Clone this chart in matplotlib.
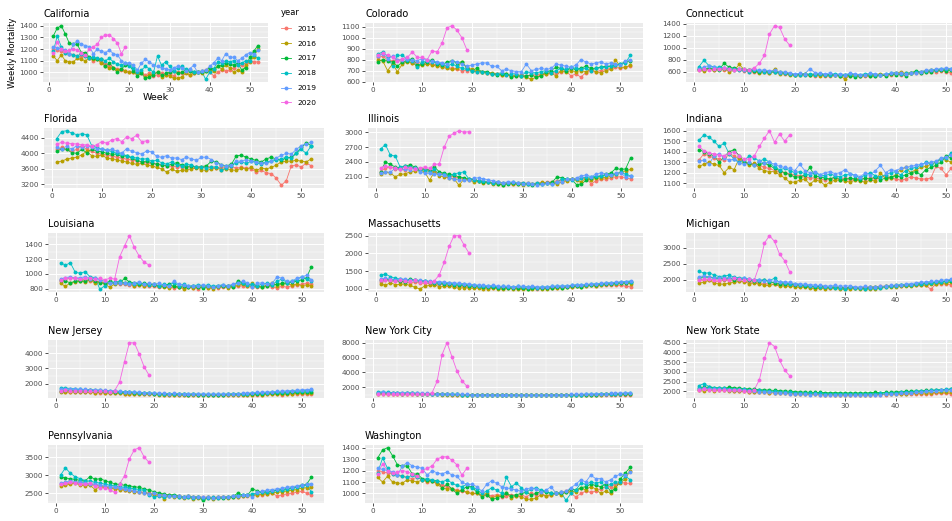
import matplotlib
matplotlib.use("Agg")
import matplotlib.pyplot as plt
from matplotlib.lines import Line2D
from matplotlib.ticker import MultipleLocator, AutoMinorLocator

years = ["2015", "2016", "2017", "2018", "2019", "2020"]
colors = ["#F8766D", "#B79F00", "#00BA38", "#00BFC4", "#619CFF", "#F564E3"]

# each state: weekly deaths for 2015..2019 (52 weeks) and 2020 (19 weeks)
california = [
    [1200, 1190, 1180, 1170, 1160, 1150, 1140, 1130, 1140, 1120, 1100, 1110, 1090, 1070, 1060, 1040, 1030, 1020, 1010, 1000, 1000, 990, 990, 980, 990, 970, 980, 990, 980, 990, 970, 1000, 990, 1000, 980, 990, 1000, 1010, 1020, 1000, 970, 1000, 1020, 1010, 1020, 1040, 1060, 1060, 1080, 1100, 1090, 1090],
    [1140, 1100, 1150, 1100, 1090, 1090, 1120, 1110, 1100, 1120, 1110, 1110, 1080, 1050, 1040, 1040, 1020, 1030, 1010, 1000, 1000, 990, 1000, 960, 980, 990, 1000, 960, 980, 970, 950, 950, 960, 990, 980, 990, 1000, 990, 1010, 1020, 1010, 1050, 1030, 1060, 1040, 1000, 1020, 1000, 1060, 1090, 1130, 1200],
    [1310, 1380, 1400, 1330, 1250, 1240, 1240, 1170, 1170, 1130, 1120, 1110, 1110, 1050, 1080, 1040, 1000, 1030, 1060, 1060, 1010, 970, 990, 950, 960, 980, 1000, 980, 990, 1000, 1010, 990, 1000, 1020, 1010, 1000, 1000, 1000, 1010, 1040, 1030, 1050, 1060, 1080, 1070, 1060, 1080, 1020, 1040, 1130, 1180, 1230],
    [1180, 1310, 1220, 1170, 1160, 1150, 1140, 1160, 1140, 1120, 1130, 1120, 1110, 1100, 1120, 1090, 1070, 1060, 1080, 1050, 1040, 1000, 1020, 1050, 1030, 1000, 1140, 1060, 1090, 1050, 1010, 1040, 1050, 1030, 1020, 1000, 1000, 1010, 940, 1000, 1030, 1090, 1080, 1100, 1090, 1100, 1060, 1080, 1100, 1100, 1150, 1120],
    [1220, 1210, 1200, 1190, 1160, 1240, 1270, 1240, 1230, 1220, 1160, 1200, 1180, 1170, 1190, 1160, 1150, 1100, 1080, 1080, 1060, 1020, 1080, 1110, 1090, 1060, 1050, 1040, 1030, 1020, 1040, 1050, 1040, 1010, 1030, 1060, 1000, 1010, 1020, 1050, 1080, 1120, 1100, 1160, 1130, 1130, 1100, 1120, 1150, 1170, 1160, 1190],
    [1170, 1260, 1200, 1180, 1190, 1200, 1190, 1170, 1150, 1200, 1220, 1240, 1300, 1320, 1320, 1290, 1250, 1160, 1220],
]
colorado = [
    [820, 830, 800, 790, 800, 780, 790, 770, 780, 760, 770, 760, 750, 740, 730, 720, 710, 700, 700, 700, 690, 690, 680, 670, 670, 660, 660, 650, 650, 660, 650, 660, 660, 670, 670, 680, 680, 690, 700, 650, 670, 640, 680, 700, 690, 700, 710, 720, 730, 720, 730, 740],
    [800, 790, 700, 760, 690, 760, 780, 770, 740, 750, 760, 750, 740, 730, 720, 710, 720, 780, 730, 710, 700, 690, 680, 680, 670, 660, 670, 650, 660, 650, 640, 620, 640, 660, 670, 680, 650, 700, 690, 700, 690, 700, 690, 710, 690, 680, 700, 710, 800, 730, 730, 750],
    [780, 800, 790, 780, 740, 780, 790, 810, 750, 760, 780, 800, 760, 750, 780, 790, 770, 780, 720, 700, 720, 690, 690, 670, 660, 670, 670, 640, 650, 650, 650, 660, 640, 650, 690, 700, 730, 720, 700, 720, 710, 720, 740, 720, 720, 730, 740, 740, 750, 760, 780, 790],
    [850, 870, 830, 740, 840, 840, 800, 790, 730, 780, 790, 780, 770, 760, 740, 760, 740, 720, 710, 700, 690, 690, 680, 670, 670, 680, 660, 670, 670, 650, 690, 680, 680, 690, 700, 680, 700, 720, 710, 730, 720, 710, 720, 700, 720, 730, 730, 740, 750, 760, 770, 840],
    [830, 850, 810, 830, 800, 800, 810, 800, 790, 810, 800, 790, 780, 770, 760, 790, 780, 760, 740, 750, 760, 770, 770, 740, 740, 700, 710, 700, 690, 690, 760, 700, 710, 720, 710, 720, 760, 750, 740, 730, 750, 800, 780, 760, 770, 780, 760, 770, 760, 750, 790, 800],
    [840, 860, 840, 820, 790, 810, 820, 870, 820, 820, 800, 880, 870, 950, 1090, 1110, 1070, 1000, 890],
]
connecticut = [
    [640, 620, 640, 630, 650, 630, 620, 640, 620, 610, 600, 590, 600, 590, 580, 590, 570, 560, 560, 550, 550, 540, 540, 530, 540, 530, 530, 540, 530, 530, 520, 530, 530, 520, 530, 530, 540, 540, 550, 560, 550, 560, 570, 580, 580, 590, 590, 600, 610, 600, 580, 560],
    [620, 610, 650, 620, 640, 650, 600, 620, 720, 630, 620, 610, 570, 600, 580, 640, 560, 570, 540, 540, 550, 560, 540, 550, 530, 540, 550, 540, 530, 470, 550, 540, 530, 550, 540, 550, 560, 550, 560, 580, 590, 570, 580, 600, 590, 610, 620, 630, 620, 640, 620, 600],
    [650, 640, 660, 640, 630, 740, 670, 660, 650, 640, 620, 610, 600, 610, 600, 590, 590, 580, 560, 550, 560, 560, 550, 560, 560, 540, 550, 540, 530, 540, 530, 510, 530, 540, 520, 530, 540, 530, 560, 550, 560, 530, 570, 610, 580, 600, 600, 620, 630, 610, 630, 640],
    [680, 790, 700, 680, 670, 660, 650, 640, 630, 620, 600, 620, 610, 600, 590, 600, 580, 570, 560, 550, 550, 550, 560, 550, 560, 550, 550, 560, 550, 540, 560, 550, 550, 560, 560, 550, 540, 560, 570, 580, 560, 570, 580, 590, 600, 610, 620, 630, 640, 640, 650, 660],
    [640, 680, 700, 670, 650, 660, 640, 630, 650, 620, 630, 640, 620, 630, 610, 620, 600, 590, 580, 560, 570, 560, 650, 580, 570, 560, 580, 550, 560, 550, 570, 560, 540, 550, 570, 560, 550, 560, 570, 580, 570, 560, 570, 580, 600, 620, 630, 640, 650, 660, 650, 670],
    [620, 640, 630, 640, 650, 660, 640, 630, 640, 640, 630, 660, 740, 870, 1230, 1370, 1340, 1150, 1040],
]
florida = [
    [4100, 4150, 4100, 4050, 4100, 4200, 4100, 4050, 4000, 3980, 3960, 3940, 3900, 3880, 3850, 3830, 3800, 3780, 3760, 3740, 3720, 3700, 3680, 3670, 3660, 3650, 3660, 3640, 3650, 3640, 3660, 3650, 3630, 3650, 3640, 3660, 3620, 3640, 3620, 3600, 3520, 3560, 3500, 3480, 3360, 3180, 3300, 3680, 3700, 3650, 3750, 3680],
    [3780, 3800, 3850, 3880, 3900, 3960, 4050, 3940, 3920, 3960, 3880, 3860, 3840, 3800, 3780, 3740, 3720, 3740, 3700, 3680, 3640, 3600, 3520, 3600, 3540, 3560, 3580, 3600, 3620, 3580, 3560, 3600, 3620, 3580, 3600, 3580, 3560, 3620, 3600, 3640, 3560, 3620, 3600, 3640, 3700, 3780, 3800, 3800, 3820, 3800, 3780, 3860],
    [4050, 4120, 4100, 4020, 4000, 4100, 4020, 4100, 4060, 4040, 4000, 3980, 3980, 3920, 3940, 3880, 3820, 3780, 3800, 3760, 3720, 3700, 3680, 3720, 3760, 3700, 3660, 3680, 3640, 3660, 3680, 3800, 3780, 3700, 3680, 3720, 3940, 3950, 3900, 3850, 3820, 3780, 3860, 3900, 3850, 3820, 3880, 3900, 4000, 4150, 4260, 4200],
    [4380, 4560, 4580, 4520, 4480, 4500, 4480, 4200, 4150, 4100, 4080, 4050, 4000, 3980, 3940, 3900, 3880, 3850, 3860, 3800, 3820, 3760, 3720, 3780, 3700, 3680, 3720, 3700, 3640, 3650, 3620, 3640, 3660, 3580, 3620, 3680, 3760, 3780, 3740, 3800, 3760, 3720, 3780, 3800, 3820, 3860, 3900, 3880, 4000, 4100, 4000, 4200],
    [4150, 4120, 4180, 4100, 4200, 4150, 4200, 4150, 4100, 4120, 4080, 4100, 4060, 4000, 4120, 4050, 4020, 3980, 4060, 4040, 3920, 3900, 3940, 3880, 3880, 3840, 3900, 3860, 3820, 3900, 3900, 3840, 3760, 3700, 3680, 3700, 3800, 3800, 3840, 3800, 3780, 3760, 3740, 3800, 3880, 3950, 4000, 3980, 4100, 4200, 4250, 4280],
    [4240, 4280, 4260, 4250, 4240, 4220, 4220, 4180, 4220, 4300, 4260, 4340, 4380, 4300, 4420, 4380, 4460, 4300, 4320],
]
illinois = [
    [2200, 2280, 2300, 2260, 2250, 2240, 2300, 2280, 2260, 2250, 2220, 2200, 2180, 2160, 2120, 2100, 2080, 2060, 2050, 2040, 2020, 2000, 2000, 1980, 1990, 1970, 1980, 1960, 1970, 1980, 1960, 1960, 1970, 1980, 1990, 2000, 2020, 2030, 2040, 2060, 2050, 2080, 2060, 1960, 2020, 2050, 2060, 2080, 2100, 2100, 2080, 2060],
    [2160, 2200, 2180, 2100, 2150, 2160, 2200, 2220, 2240, 2200, 2030, 2200, 2120, 2100, 2080, 2060, 1930, 2050, 2040, 2000, 2010, 1980, 1990, 1950, 1960, 1940, 1970, 1950, 1960, 1940, 1970, 1950, 1960, 1990, 1970, 1980, 1950, 2000, 2020, 2050, 2030, 2000, 2080, 2040, 2070, 2080, 2090, 2110, 2150, 2200, 2220, 2250],
    [2200, 2400, 2350, 2300, 2280, 2320, 2340, 2300, 2260, 2260, 2240, 2300, 2200, 2170, 2150, 2130, 2100, 2080, 2060, 2050, 2020, 2000, 1990, 1980, 1960, 1940, 1960, 1970, 1950, 1960, 1960, 1940, 1950, 1960, 1980, 1990, 2100, 2080, 2060, 2050, 1940, 1960, 2030, 2070, 2100, 2120, 2150, 2180, 2270, 2250, 2260, 2480],
    [2660, 2750, 2540, 2520, 2300, 2320, 2300, 2280, 2240, 2240, 2200, 2250, 2150, 2150, 2120, 2160, 2180, 2200, 2060, 2040, 2020, 2010, 1990, 1980, 2000, 1970, 1980, 1990, 1970, 1980, 1950, 1960, 1980, 1960, 1970, 1950, 1990, 2060, 2050, 2040, 2060, 2080, 2090, 2100, 2110, 2120, 2130, 2140, 2150, 2200, 2150, 2120],
    [2180, 2200, 2190, 2280, 2260, 2250, 2240, 2280, 2200, 2180, 2170, 2160, 2150, 2140, 2080, 2060, 2040, 2030, 2040, 2080, 2080, 2060, 2040, 2020, 2000, 1980, 2000, 1990, 1980, 1960, 1980, 1960, 1940, 1950, 1970, 1960, 1990, 2000, 2050, 2060, 2080, 2120, 2140, 2100, 2160, 2180, 2160, 2140, 2180, 2180, 2100, 2120],
    [2280, 2320, 2300, 2280, 2250, 2300, 2280, 2260, 2280, 2300, 2270, 2350, 2360, 2700, 2920, 2980, 3030, 3000, 3010],
]
indiana = [
    [1320, 1380, 1360, 1340, 1330, 1320, 1380, 1360, 1330, 1300, 1290, 1280, 1270, 1250, 1240, 1220, 1210, 1200, 1190, 1180, 1170, 1160, 1150, 1150, 1140, 1130, 1140, 1150, 1140, 1150, 1130, 1140, 1150, 1140, 1150, 1140, 1160, 1170, 1150, 1140, 1130, 1140, 1160, 1150, 1140, 1140, 1150, 1260, 1240, 1180, 1240, 1230],
    [1260, 1280, 1300, 1280, 1270, 1200, 1250, 1230, 1340, 1300, 1270, 1290, 1240, 1220, 1210, 1210, 1180, 1150, 1110, 1110, 1130, 1140, 1090, 1130, 1120, 1080, 1110, 1130, 1130, 1120, 1110, 1130, 1120, 1110, 1130, 1120, 1200, 1140, 1150, 1180, 1230, 1250, 1200, 1230, 1250, 1260, 1280, 1300, 1330, 1320, 1300, 1330],
    [1420, 1400, 1380, 1360, 1300, 1350, 1400, 1420, 1360, 1300, 1290, 1270, 1280, 1290, 1270, 1240, 1220, 1200, 1180, 1160, 1160, 1180, 1250, 1170, 1160, 1150, 1140, 1160, 1130, 1140, 1150, 1140, 1130, 1150, 1140, 1160, 1130, 1150, 1160, 1170, 1160, 1180, 1200, 1210, 1180, 1230, 1250, 1270, 1300, 1360, 1340, 1360],
    [1510, 1560, 1540, 1500, 1450, 1480, 1380, 1330, 1300, 1320, 1360, 1340, 1310, 1330, 1300, 1250, 1230, 1240, 1220, 1200, 1210, 1190, 1180, 1200, 1180, 1170, 1190, 1170, 1160, 1180, 1190, 1170, 1150, 1180, 1200, 1170, 1160, 1180, 1200, 1210, 1180, 1220, 1240, 1250, 1270, 1300, 1280, 1300, 1330, 1340, 1390, 1410],
    [1310, 1320, 1280, 1360, 1380, 1340, 1320, 1330, 1290, 1280, 1300, 1270, 1310, 1290, 1300, 1280, 1260, 1250, 1240, 1220, 1280, 1220, 1200, 1210, 1180, 1200, 1210, 1190, 1200, 1230, 1190, 1180, 1160, 1200, 1180, 1220, 1270, 1200, 1230, 1220, 1240, 1250, 1260, 1270, 1280, 1290, 1300, 1310, 1340, 1350, 1370, 1390],
    [1450, 1410, 1390, 1380, 1370, 1360, 1390, 1400, 1360, 1330, 1330, 1360, 1450, 1530, 1600, 1490, 1570, 1500, 1560],
]
louisiana = [
    [900, 920, 950, 940, 930, 920, 910, 900, 890, 880, 870, 870, 860, 860, 850, 840, 850, 840, 830, 830, 820, 830, 820, 810, 820, 810, 820, 810, 800, 820, 810, 820, 810, 820, 830, 820, 830, 840, 830, 820, 820, 830, 840, 820, 810, 830, 820, 840, 850, 860, 870, 860],
    [870, 830, 880, 890, 900, 890, 920, 870, 900, 860, 820, 860, 900, 880, 860, 840, 850, 840, 850, 860, 840, 820, 810, 830, 820, 800, 820, 810, 820, 830, 810, 800, 820, 830, 810, 830, 850, 860, 840, 870, 830, 820, 850, 880, 840, 860, 870, 850, 860, 840, 850, 840],
    [920, 900, 880, 900, 910, 900, 930, 900, 880, 870, 900, 880, 870, 940, 890, 880, 860, 870, 860, 850, 830, 840, 860, 830, 820, 840, 820, 830, 820, 810, 830, 820, 830, 840, 830, 820, 900, 880, 860, 840, 830, 820, 840, 850, 860, 870, 880, 890, 900, 920, 950, 1100],
    [1150, 1120, 1150, 1020, 1010, 1030, 960, 950, 790, 840, 880, 890, 900, 880, 870, 860, 870, 860, 850, 860, 840, 860, 850, 880, 840, 860, 830, 840, 850, 840, 850, 830, 840, 850, 830, 850, 880, 870, 850, 860, 840, 860, 870, 850, 900, 930, 880, 900, 920, 960, 930, 900],
    [930, 950, 960, 940, 950, 960, 930, 940, 920, 900, 880, 870, 880, 870, 860, 880, 890, 860, 870, 860, 870, 850, 840, 900, 860, 850, 840, 830, 840, 850, 830, 820, 840, 850, 840, 860, 880, 900, 880, 820, 870, 880, 860, 870, 960, 940, 900, 900, 940, 960, 980, 920],
    [920, 940, 950, 940, 930, 950, 940, 930, 940, 920, 940, 930, 1230, 1380, 1520, 1360, 1240, 1160, 1120],
]
massachusetts = [
    [1200, 1250, 1220, 1230, 1210, 1200, 1180, 1190, 1170, 1160, 1150, 1140, 1130, 1120, 1100, 1090, 1080, 1070, 1060, 1060, 1050, 1050, 1040, 1040, 1030, 1030, 1040, 1020, 1030, 1020, 1020, 1030, 1010, 1020, 1030, 1020, 1040, 1050, 1050, 1060, 1070, 1080, 1090, 1100, 1090, 1100, 1110, 1120, 1110, 1100, 1080, 1060],
    [1150, 1100, 1180, 1120, 1130, 1140, 1100, 1050, 1000, 1080, 1100, 1120, 1060, 1070, 1080, 1050, 1020, 1040, 1030, 1020, 1030, 1010, 1000, 1020, 1010, 990, 1020, 1010, 1000, 990, 1000, 1010, 1020, 1000, 1010, 1020, 1040, 1030, 1050, 1060, 1080, 1060, 1090, 1100, 1080, 1120, 1140, 1130, 1150, 1170, 1160, 1150],
    [1250, 1270, 1260, 1240, 1220, 1200, 1280, 1250, 1230, 1220, 1200, 1180, 1160, 1150, 1140, 1120, 1110, 1100, 1090, 1070, 1080, 1060, 1050, 1050, 1040, 1030, 1040, 1020, 1030, 1020, 1010, 1020, 1030, 1020, 1030, 1040, 1050, 1040, 1060, 1070, 1080, 1060, 1100, 1120, 1110, 1130, 1150, 1140, 1160, 1180, 1170, 1200],
    [1380, 1420, 1350, 1300, 1280, 1260, 1250, 1240, 1230, 1220, 1210, 1200, 1180, 1170, 1160, 1150, 1140, 1130, 1120, 1100, 1090, 1080, 1070, 1080, 1060, 1070, 1050, 1060, 1070, 1050, 1060, 1050, 1040, 1060, 1050, 1070, 1080, 1070, 1090, 1100, 1110, 1100, 1120, 1130, 1140, 1150, 1160, 1170, 1180, 1190, 1200, 1210],
    [1270, 1300, 1280, 1260, 1290, 1270, 1250, 1260, 1240, 1230, 1220, 1200, 1210, 1190, 1180, 1170, 1160, 1150, 1140, 1120, 1110, 1100, 1090, 1100, 1080, 1070, 1080, 1060, 1070, 1080, 1060, 1070, 1060, 1050, 1060, 1070, 1080, 1090, 1080, 1100, 1120, 1110, 1130, 1140, 1150, 1160, 1170, 1180, 1190, 1200, 1210, 1230],
    [1250, 1260, 1240, 1230, 1250, 1220, 1230, 1240, 1210, 1200, 1190, 1230, 1400, 1750, 2200, 2500, 2500, 2250, 2020],
]
michigan = [
    [2000, 1980, 2000, 1950, 1960, 1980, 1990, 1970, 1960, 1950, 1940, 1920, 1900, 1880, 1870, 1860, 1850, 1840, 1830, 1820, 1800, 1790, 1780, 1770, 1760, 1770, 1750, 1760, 1740, 1750, 1760, 1740, 1750, 1760, 1770, 1780, 1790, 1800, 1790, 1810, 1800, 1820, 1830, 1840, 1850, 1820, 1700, 1870, 1880, 1860, 1850, 1840],
    [1900, 1920, 1980, 1900, 1870, 1860, 1900, 1920, 1950, 1940, 1880, 1900, 1860, 1830, 1820, 1860, 1800, 1810, 1790, 1780, 1760, 1770, 1740, 1720, 1730, 1720, 1740, 1730, 1710, 1700, 1720, 1740, 1710, 1720, 1700, 1720, 1730, 1760, 1780, 1770, 1790, 1800, 1790, 1820, 1830, 1840, 1860, 1880, 1890, 1900, 1920, 1930],
    [2050, 2100, 2080, 2060, 2040, 2030, 2060, 2000, 2020, 2010, 1980, 1960, 1970, 2000, 1940, 1900, 1880, 1870, 1860, 1850, 1830, 1810, 1790, 1780, 1790, 1770, 1760, 1780, 1760, 1740, 1760, 1750, 1730, 1750, 1760, 1770, 1780, 1790, 1800, 1820, 1830, 1850, 1840, 1860, 1880, 1900, 1890, 1920, 1940, 1960, 1970, 2000],
    [2280, 2200, 2220, 2150, 2100, 2120, 2140, 2080, 2060, 2050, 2020, 2000, 1990, 1980, 1970, 2050, 1920, 1900, 1880, 1860, 1840, 1820, 1800, 1790, 1780, 1770, 1760, 1740, 1750, 1700, 1760, 1740, 1730, 1720, 1740, 1730, 1750, 1780, 1790, 1800, 1820, 1840, 1850, 1860, 1870, 1890, 1900, 1920, 1940, 1960, 1980, 2000],
    [2100, 2120, 2080, 2060, 2050, 2070, 2040, 2060, 2030, 2050, 2020, 2000, 1990, 1970, 1980, 1950, 1940, 1930, 1920, 1880, 1870, 1860, 1850, 1830, 1820, 1810, 1800, 1820, 1790, 1810, 1800, 1780, 1770, 1790, 1760, 1780, 1790, 1800, 1820, 1830, 1850, 1860, 1880, 1900, 1920, 1930, 1950, 1960, 1980, 2000, 2010, 2030],
    [2000, 2020, 2010, 2000, 1990, 2010, 2000, 2050, 2020, 2000, 2010, 2000, 2450, 3150, 3380, 3200, 2800, 2600, 2250],
]
new_jersey = [
    [1500, 1480, 1460, 1450, 1440, 1430, 1420, 1410, 1400, 1390, 1380, 1370, 1360, 1350, 1340, 1330, 1320, 1310, 1300, 1290, 1290, 1280, 1270, 1270, 1260, 1260, 1250, 1260, 1250, 1240, 1250, 1240, 1250, 1240, 1250, 1260, 1250, 1260, 1270, 1280, 1270, 1280, 1290, 1300, 1300, 1260, 1310, 1320, 1330, 1320, 1310, 1300],
    [1450, 1420, 1480, 1440, 1450, 1460, 1430, 1410, 1420, 1400, 1380, 1390, 1360, 1350, 1340, 1330, 1310, 1320, 1300, 1290, 1280, 1270, 1260, 1270, 1250, 1240, 1250, 1240, 1230, 1240, 1230, 1250, 1240, 1230, 1240, 1250, 1260, 1250, 1270, 1280, 1290, 1280, 1300, 1310, 1320, 1330, 1340, 1350, 1360, 1370, 1380, 1390],
    [1550, 1570, 1560, 1540, 1530, 1520, 1560, 1540, 1520, 1500, 1480, 1460, 1440, 1430, 1420, 1400, 1390, 1370, 1360, 1340, 1330, 1320, 1310, 1300, 1300, 1290, 1280, 1290, 1280, 1270, 1280, 1270, 1280, 1270, 1290, 1300, 1290, 1300, 1310, 1330, 1340, 1350, 1360, 1370, 1380, 1400, 1410, 1420, 1440, 1450, 1460, 1480],
    [1700, 1720, 1680, 1650, 1620, 1600, 1580, 1570, 1560, 1540, 1520, 1500, 1480, 1460, 1440, 1420, 1400, 1380, 1370, 1360, 1350, 1340, 1330, 1320, 1320, 1310, 1300, 1310, 1300, 1290, 1300, 1290, 1300, 1290, 1300, 1310, 1320, 1330, 1340, 1360, 1370, 1390, 1400, 1420, 1430, 1450, 1470, 1490, 1510, 1530, 1550, 1580],
    [1650, 1680, 1660, 1640, 1630, 1620, 1610, 1600, 1580, 1560, 1540, 1520, 1500, 1480, 1470, 1450, 1430, 1410, 1400, 1380, 1370, 1360, 1350, 1360, 1340, 1330, 1340, 1320, 1330, 1320, 1310, 1320, 1310, 1330, 1320, 1340, 1350, 1370, 1380, 1400, 1420, 1440, 1450, 1470, 1490, 1510, 1530, 1550, 1570, 1590, 1610, 1630],
    [1550, 1560, 1540, 1530, 1550, 1520, 1510, 1520, 1500, 1490, 1480, 1550, 2100, 3450, 4700, 4680, 3950, 3100, 2550],
]
new_york_city = [
    [1150, 1180, 1160, 1150, 1140, 1130, 1120, 1110, 1100, 1090, 1080, 1070, 1060, 1050, 1040, 1030, 1020, 1010, 1000, 990, 990, 980, 970, 970, 960, 960, 950, 960, 950, 940, 950, 940, 950, 940, 950, 960, 950, 960, 970, 980, 970, 980, 990, 1000, 1000, 980, 1010, 1020, 1030, 1020, 1010, 1000],
    [1100, 1080, 1120, 1100, 1110, 1120, 1100, 1090, 1080, 1070, 1060, 1050, 1040, 1030, 1020, 1010, 1000, 990, 980, 970, 970, 960, 950, 960, 950, 940, 950, 940, 930, 940, 930, 950, 940, 930, 940, 950, 960, 950, 970, 980, 990, 980, 1000, 1010, 1020, 1030, 1040, 1050, 1060, 1070, 1080, 1090],
    [1200, 1220, 1210, 1190, 1180, 1170, 1210, 1190, 1170, 1150, 1130, 1110, 1090, 1080, 1070, 1050, 1040, 1020, 1010, 990, 980, 970, 960, 950, 950, 940, 930, 940, 930, 920, 930, 920, 930, 920, 940, 950, 940, 950, 960, 980, 990, 1000, 1010, 1020, 1030, 1050, 1060, 1070, 1090, 1100, 1110, 1130],
    [1350, 1380, 1320, 1280, 1250, 1230, 1220, 1200, 1190, 1170, 1150, 1130, 1110, 1090, 1070, 1060, 1040, 1020, 1010, 1000, 990, 980, 970, 960, 960, 950, 940, 950, 940, 930, 940, 930, 940, 930, 940, 950, 960, 970, 980, 1000, 1010, 1030, 1040, 1060, 1070, 1090, 1110, 1130, 1150, 1170, 1190, 1210],
    [1300, 1320, 1300, 1280, 1270, 1260, 1250, 1240, 1220, 1200, 1180, 1160, 1140, 1120, 1110, 1090, 1070, 1050, 1040, 1020, 1010, 1000, 990, 1000, 980, 970, 980, 960, 970, 960, 950, 960, 950, 970, 960, 980, 990, 1010, 1020, 1040, 1060, 1080, 1090, 1110, 1130, 1150, 1170, 1190, 1210, 1230, 1250, 1270],
    [1150, 1170, 1140, 1130, 1150, 1120, 1110, 1120, 1100, 1090, 1080, 1300, 2800, 6400, 8000, 6100, 4200, 2900, 2150],
]
new_york_state = [
    [2100, 2150, 2120, 2100, 2080, 2060, 2050, 2040, 2020, 2000, 1990, 1980, 1960, 1950, 1940, 1930, 1920, 1900, 1890, 1880, 1870, 1860, 1850, 1850, 1840, 1840, 1830, 1840, 1830, 1820, 1830, 1820, 1830, 1820, 1830, 1840, 1830, 1840, 1850, 1860, 1850, 1860, 1870, 1880, 1880, 1860, 1890, 1900, 1910, 1900, 1890, 1880],
    [2050, 2020, 2080, 2040, 2050, 2060, 2030, 2010, 2020, 2000, 1980, 1990, 1960, 1950, 1940, 1930, 1910, 1920, 1900, 1890, 1880, 1870, 1860, 1870, 1850, 1840, 1850, 1840, 1830, 1840, 1830, 1850, 1840, 1830, 1840, 1850, 1860, 1850, 1870, 1880, 1890, 1880, 1900, 1910, 1920, 1930, 1940, 1950, 1960, 1970, 1980, 1990],
    [2200, 2220, 2210, 2190, 2180, 2170, 2210, 2190, 2170, 2150, 2130, 2110, 2090, 2080, 2070, 2050, 2040, 2020, 2010, 1990, 1980, 1970, 1960, 1950, 1950, 1940, 1930, 1940, 1930, 1920, 1930, 1920, 1930, 1920, 1940, 1950, 1940, 1950, 1960, 1980, 1990, 2000, 2010, 2020, 2030, 2050, 2060, 2070, 2090, 2100, 2110, 2130],
    [2300, 2400, 2250, 2200, 2180, 2160, 2150, 2140, 2130, 2110, 2090, 2070, 2050, 2030, 2010, 2000, 1980, 1960, 1950, 1940, 1930, 1920, 1910, 1900, 1900, 1890, 1880, 1890, 1880, 1870, 1880, 1870, 1880, 1870, 1880, 1890, 1900, 1910, 1920, 1940, 1950, 1970, 1980, 2000, 2010, 2030, 2050, 2070, 2090, 2110, 2130, 2150],
    [2150, 2170, 2150, 2130, 2120, 2110, 2100, 2090, 2070, 2050, 2030, 2010, 1990, 1970, 1960, 1940, 1920, 1900, 1890, 1870, 1860, 1850, 1840, 1850, 1830, 1820, 1830, 1810, 1820, 1810, 1800, 1810, 1800, 1820, 1810, 1830, 1840, 1860, 1870, 1890, 1910, 1930, 1940, 1960, 1980, 2000, 2020, 2040, 2060, 2080, 2100, 2120],
    [2100, 2120, 2090, 2080, 2100, 2070, 2060, 2070, 2050, 2040, 2030, 2100, 2600, 3700, 4500, 4300, 3600, 3100, 2800],
]
pennsylvania = [
    [2750, 2760, 2780, 2800, 2760, 2740, 2750, 2720, 2700, 2680, 2660, 2640, 2620, 2600, 2580, 2560, 2540, 2520, 2500, 2480, 2460, 2450, 2440, 2420, 2420, 2400, 2410, 2390, 2400, 2380, 2390, 2380, 2390, 2400, 2390, 2410, 2400, 2420, 2430, 2440, 2450, 2460, 2480, 2500, 2420, 2450, 2480, 2500, 2520, 2550, 2500, 2450],
    [2700, 2720, 2750, 2780, 2720, 2700, 2720, 2600, 2680, 2660, 2640, 2620, 2600, 2580, 2560, 2540, 2520, 2500, 2480, 2450, 2440, 2350, 2420, 2400, 2380, 2360, 2380, 2340, 2370, 2350, 2360, 2340, 2360, 2380, 2360, 2380, 2400, 2420, 2440, 2450, 2460, 2470, 2490, 2510, 2520, 2540, 2560, 2580, 2600, 2640, 2650, 2680],
    [2950, 2920, 2900, 2880, 2850, 2840, 2960, 2880, 2900, 2850, 2800, 2760, 2740, 2720, 2700, 2680, 2660, 2620, 2580, 2540, 2500, 2480, 2450, 2460, 2430, 2400, 2420, 2400, 2380, 2300, 2380, 2370, 2380, 2360, 2380, 2400, 2500, 2450, 2440, 2620, 2560, 2520, 2540, 2560, 2580, 2600, 2620, 2650, 2680, 2720, 2750, 2940],
    [3000, 3200, 3050, 2950, 2900, 2850, 2830, 2800, 2780, 2750, 2720, 2700, 2680, 2660, 2640, 2620, 2600, 2580, 2450, 2400, 2420, 2400, 2420, 2410, 2400, 2380, 2390, 2370, 2380, 2360, 2370, 2380, 2360, 2380, 2400, 2420, 2430, 2440, 2460, 2480, 2500, 2520, 2540, 2560, 2580, 2600, 2620, 2640, 2660, 2700, 2720, 2540],
    [2780, 2800, 2850, 2820, 2800, 2780, 2760, 2750, 2720, 2700, 2680, 2660, 2640, 2620, 2600, 2560, 2540, 2500, 2480, 2500, 2460, 2440, 2420, 2430, 2410, 2400, 2420, 2390, 2400, 2380, 2390, 2370, 2380, 2400, 2390, 2410, 2420, 2440, 2460, 2400, 2520, 2560, 2580, 2600, 2620, 2640, 2660, 2680, 2700, 2730, 2740, 2760],
    [2750, 2780, 2800, 2790, 2760, 2750, 2780, 2700, 2650, 2640, 2600, 2520, 2750, 2980, 3450, 3700, 3760, 3500, 3350],
]
# the Washington panel in the source shows the same series as California
washington = california

panels = [
    ("California", california, 100, (43, 23, 225, 59)),
    ("Colorado", colorado, 100, (365, 23, 278, 59)),
    ("Connecticut", connecticut, 200, (686, 23, 283, 59)),
    ("Florida", florida, 400, (44, 128, 280, 60)),
    ("Illinois", illinois, 300, (368, 128, 275, 60)),
    ("Indiana", indiana, 100, (686, 128, 283, 60)),
    ("Louisiana", louisiana, 200, (48, 233, 276, 59)),
    ("Massachusetts", massachusetts, 500, (368, 233, 275, 59)),
    ("Michigan", michigan, 500, (686, 233, 283, 59)),
    ("New Jersey", new_jersey, 1000, (48, 340, 276, 58)),
    ("New York City", new_york_city, 2000, (365, 340, 278, 58)),
    ("New York State", new_york_state, 500, (686, 340, 283, 58)),
    ("Pennsylvania", pennsylvania, 500, (48, 445, 276, 58)),
    ("Washington", washington, 100, (365, 445, 278, 58)),
]

W, H = 952, 521
fig = plt.figure(figsize=(W / 100, H / 100), dpi=100)

for name, series, ystep, (px, py, pw, ph) in panels:
    ax = fig.add_axes([px / W, 1 - (py + ph) / H, pw / W, ph / H])
    ax.set_facecolor("#EBEBEB")
    for vals, c in zip(series, colors):
        weeks = list(range(1, len(vals) + 1))
        ax.plot(weeks, vals, color=c, lw=0.6, zorder=2)
    for vals, c in zip(series, colors):
        weeks = list(range(1, len(vals) + 1))
        ax.plot(weeks, vals, "o", color=c, ms=2.8, mew=0, zorder=3)
    ax.margins(x=0.05, y=0.05)
    ax.xaxis.set_major_locator(MultipleLocator(10))
    ax.yaxis.set_major_locator(MultipleLocator(ystep))
    ax.xaxis.set_minor_locator(AutoMinorLocator(2))
    ax.yaxis.set_minor_locator(AutoMinorLocator(2))
    ax.grid(which="major", color="white", lw=0.7, zorder=0)
    ax.grid(which="minor", color="white", lw=0.35, zorder=0)
    ax.set_axisbelow(True)
    for s in ax.spines.values():
        s.set_visible(False)
    ax.tick_params(which="major", length=2, width=0.6, color="#333333",
                   labelsize=5.2, labelcolor="#4D4D4D", pad=1.5)
    ax.tick_params(which="minor", length=0)
    ax.set_title(name, loc="left", fontsize=7, pad=4, color="black")
    if name == "California":
        ax.set_xlabel("Week", fontsize=6.8, labelpad=0, color="black")
        ax.set_ylabel("Weekly Mortality", fontsize=6, labelpad=2, color="black")

handles = [Line2D([0], [0], color=c, lw=0.6, marker="o", ms=2.8, mew=0) for c in colors]
leg = fig.legend(handles, years, title="year", loc="upper left",
                 bbox_to_anchor=(274 / W, 1 - 1 / H), frameon=False,
                 fontsize=5.4, title_fontsize=6, handlelength=1.4,
                 labelspacing=1.15, alignment="left")

fig.savefig("out.png", dpi=100)
